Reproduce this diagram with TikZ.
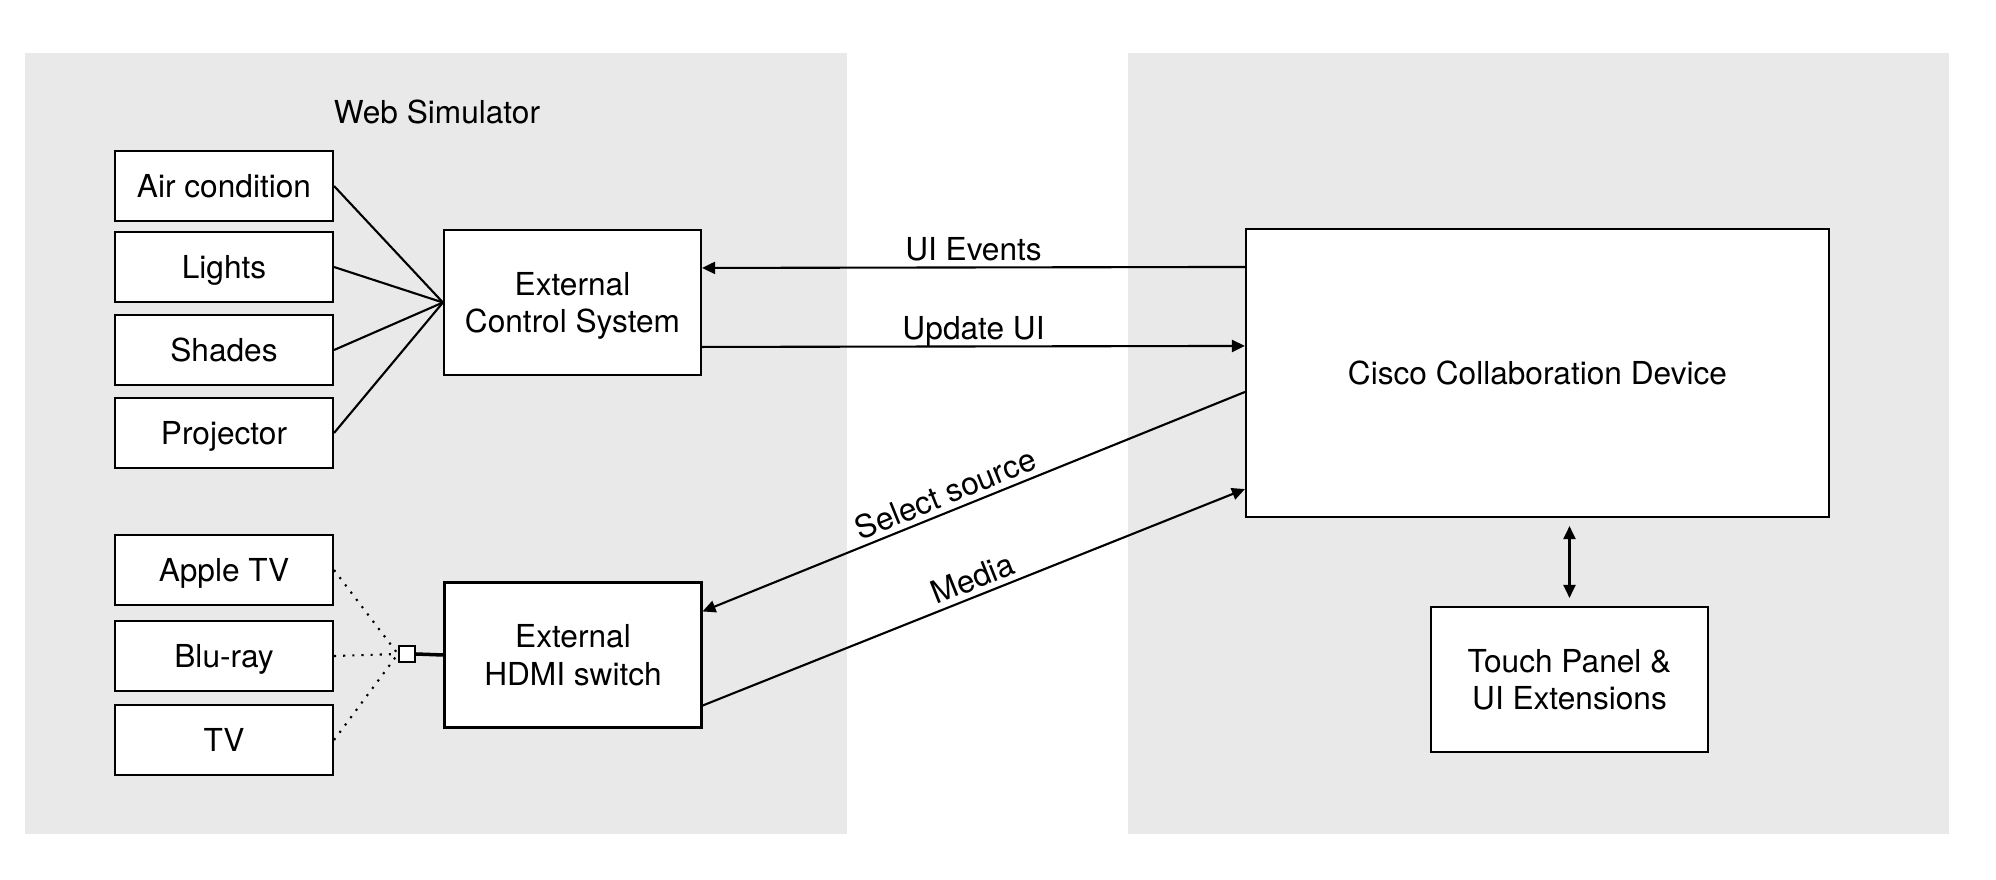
\documentclass[tikz,border=0pt]{standalone}
\usepackage{fontspec}
\setmainfont{TeX Gyre Heros}
\usetikzlibrary{arrows.meta}
\definecolor{panelgray}{RGB}{232,233,232}
\begin{document}
\begin{tikzpicture}[line width=0.6pt,font=\fontsize{9}{10.6}\selectfont,
  box/.style={draw,fill=white,inner sep=0pt,align=center,text depth=0pt},
  dev/.style={box,minimum width=2.18cm,minimum height=0.70cm},
  ctl/.style={box,minimum width=2.57cm,minimum height=1.45cm},
  lbl/.style={inner sep=1.6pt,text depth=0pt},
  arr/.style={-{Triangle[length=1.3mm,width=1.2mm]}},
  dbl/.style={{Triangle[length=1.3mm,width=1.2mm]}-{Triangle[length=1.3mm,width=1.2mm]}}]
 \useasboundingbox (0,0) rectangle (19.96,-8.80);
 \fill[panelgray](0.25,-0.53) rectangle (8.47,-8.34);
 \fill[panelgray](11.28,-0.53) rectangle (19.49,-8.34);
 \node (websim) at (4.37,-1.12) {Web Simulator};
 \node[dev] (air) at (2.24,-1.86) {Air condition};
 \node[dev] (lights) at (2.24,-2.67) {Lights};
 \node[dev] (shades) at (2.24,-3.50) {Shades};
 \node[dev] (proj) at (2.24,-4.33) {Projector};
 \node[dev] (apple) at (2.24,-5.70) {Apple TV};
 \node[dev] (bluray) at (2.24,-6.56) {Blu-ray};
 \node[dev] (tv) at (2.24,-7.40) {TV};
 \node[ctl] (ecs) at (5.725,-3.025) {External\\Control System};
 \node[ctl] (hdmi) at (5.73,-6.55) {External\\HDMI switch};
 \node[box,minimum size=0.16cm] (sq) at (4.07,-6.54) {};
 \node[box,minimum width=5.83cm,minimum height=2.88cm] (cisco) at (15.375,-3.73) {Cisco Collaboration Device};
 \node[box,minimum width=2.77cm,minimum height=1.45cm] (touch) at (15.695,-6.795) {Touch Panel \&\\UI Extensions};
 \draw (air.east)--(ecs.west); 
 \draw (lights.east)--(ecs.west); 
 \draw (shades.east)--(ecs.west); 
 \draw (proj.east)--(ecs.west); 
 \draw[dotted] (apple.east)--(sq.west); 
 \draw[dotted] (bluray.east)--(sq.west); 
 \draw[dotted] (tv.east)--(sq.west); 
 \draw[line width=1pt] (sq.east)--(hdmi.west); 
 \draw[arr] ([yshift=-0.39cm]cisco.north west)--([yshift=-0.39cm]ecs.north east) node[lbl,midway,above] {UI Events}; 
 \draw[arr] ([yshift=-1.18cm]ecs.north east)--([yshift=-1.18cm]cisco.north west) node[lbl,midway,above] {Update UI}; 
 \draw[arr] ([yshift=-1.64cm]cisco.north west)--([yshift=-0.30cm]hdmi.north east) node[lbl,pos=0.54,above,sloped] {Select source}; 
 \draw[arr] ([yshift=0.23cm]hdmi.south east)--([yshift=0.29cm]cisco.south west) node[lbl,pos=0.51,above,sloped] {Media}; 
 \coordinate (tp) at (touch.north |- cisco.south);
 \draw[dbl] ([yshift=0.08cm]touch.north)--([yshift=-0.08cm]tp); 
\end{tikzpicture}
\end{document}
